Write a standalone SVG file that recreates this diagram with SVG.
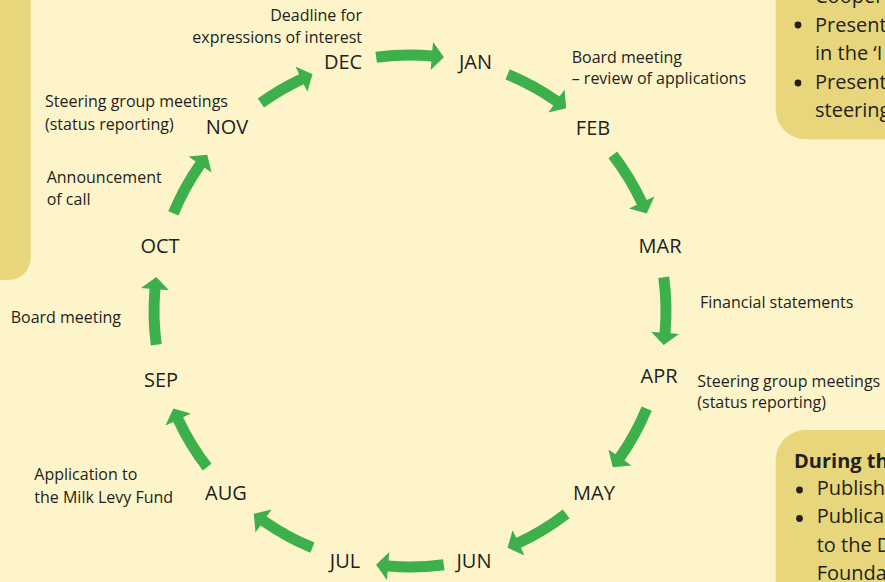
<svg xmlns="http://www.w3.org/2000/svg" xmlns:xlink="http://www.w3.org/1999/xlink" width="885" height="582" viewBox="0 0 885 582">
<style>
.bg{fill:#FEF4C9}
.box{fill:#E8D67C}
.m{font-family:"Open Sans","Noto Sans",sans-serif;font-size:20px;fill:#231F20;text-anchor:middle}
.t{font-family:"Open Sans","Noto Sans",sans-serif;font-size:16px;fill:#231F20}
.b{font-family:"Open Sans","Noto Sans",sans-serif;font-size:20px;fill:#231F20}
.dot{fill:#231F20}
.arr{fill:#3DB04B}
</style>
<defs>
<path id="arrow" class="arr" d="M 375.4 51.8 A 261.5 261.5 0 0 1 432.3 50.5 L 433.1 42.0 L 443.9 57.3 L 430.7 69.9 L 431.4 61.4 A 250.5 250.5 0 0 0 376.9 62.7 Z"/>
<path id="arrow-short" class="arr" d="M 384.5 50.8 A 261.5 261.5 0 0 1 432.3 50.5 L 433.1 42.0 L 443.9 57.3 L 430.7 69.9 L 431.4 61.4 A 250.5 250.5 0 0 0 385.3 61.8 Z"/>
</defs>
<rect class="bg" x="0" y="0" width="885" height="582"/>

<g id="box-left">
<rect class="box" x="-30" y="-30" width="60.7" height="310" rx="22"/>
</g>
<g id="box-top-right">
<rect class="box" x="775.7" y="-40" width="140" height="179.3" rx="30"/>
<text class="b" x="815" y="3">Cooper</text>
<circle class="dot" cx="798" cy="25" r="3.4"/>
<text class="b" x="815" y="31.7">Present</text>
<text class="b" x="815" y="60">in the ‘I</text>
<circle class="dot" cx="798" cy="83" r="3.4"/>
<text class="b" x="815" y="89.3">Present</text>
<text class="b" x="815" y="116.7">steering</text>
</g>
<g id="box-bottom-right">
<rect class="box" x="775.7" y="430" width="140" height="190" rx="30"/>
<text class="b" x="794" y="467.7" font-weight="bold" font-size="18">During th</text>
<circle class="dot" cx="799.5" cy="490" r="3.4"/>
<text class="b" x="816.7" y="495">Publish</text>
<circle class="dot" cx="799.5" cy="518.5" r="3.4"/>
<text class="b" x="816.7" y="523.3">Publica</text>
<text class="b" x="816.7" y="551.7">to the D</text>
<text class="b" x="816.7" y="580">Founda</text>
</g>

<g id="connectors">
<use xlink:href="#arrow" href="#arrow"/>
<use xlink:href="#arrow" href="#arrow" transform="rotate(30 410 311)"/>
<use xlink:href="#arrow" href="#arrow" transform="rotate(60 410 311)"/>
<use xlink:href="#arrow" href="#arrow" transform="rotate(90 410 311)"/>
<use xlink:href="#arrow" href="#arrow" transform="rotate(120 410 311)"/>
<use xlink:href="#arrow" href="#arrow" transform="rotate(150 410 311)"/>
<use xlink:href="#arrow" href="#arrow" transform="rotate(180 410 311)"/>
<use xlink:href="#arrow" href="#arrow" transform="rotate(210 410 311)"/>
<use xlink:href="#arrow" href="#arrow" transform="rotate(240 410 311)"/>
<use xlink:href="#arrow" href="#arrow" transform="rotate(270 410 311)"/>
<use xlink:href="#arrow" href="#arrow" transform="rotate(300 410 311)"/>
<use xlink:href="#arrow-short" href="#arrow-short" transform="rotate(330 410 311)"/>
</g>

<g id="dec">
<text class="m" x="343" y="69.3">DEC</text>
<text class="t" x="362" y="21" text-anchor="end">Deadline for</text>
<text class="t" x="362" y="43" text-anchor="end">expressions of interest</text>
</g>
<g id="jan"><text class="m" x="475.5" y="69.3">JAN</text></g>
<g id="feb">
<text class="m" x="593" y="135">FEB</text>
<text class="t" x="571.7" y="63.3">Board meeting</text>
<text class="t" x="571.7" y="84.3">– review of applications</text>
</g>
<g id="mar">
<text class="m" x="660" y="252.7">MAR</text>
<text class="t" x="700" y="307.7">Financial statements</text>
</g>
<g id="apr">
<text class="m" x="659" y="383.3">APR</text>
<text class="t" x="697.3" y="386.7">Steering group meetings</text>
<text class="t" x="697.3" y="407.7">(status reporting)</text>
</g>
<g id="may"><text class="m" x="594" y="500">MAY</text></g>
<g id="jun"><text class="m" x="474" y="567.7">JUN</text></g>
<g id="jul"><text class="m" x="345" y="567.7">JUL</text></g>
<g id="aug">
<text class="m" x="226" y="500">AUG</text>
<text class="t" x="34.3" y="480">Application to</text>
<text class="t" x="34.3" y="502.7">the Milk Levy Fund</text>
</g>
<g id="sep">
<text class="m" x="161" y="387.3">SEP</text>
<text class="t" x="10.7" y="323.3">Board meeting</text>
</g>
<g id="oct">
<text class="m" x="160" y="252.7">OCT</text>
<text class="t" x="46.7" y="182.7">Announcement</text>
<text class="t" x="46.7" y="205">of call</text>
</g>
<g id="nov">
<text class="m" x="227" y="134.3">NOV</text>
<text class="t" x="45" y="107.3">Steering group meetings</text>
<text class="t" x="45" y="130">(status reporting)</text>
</g>
</svg>
